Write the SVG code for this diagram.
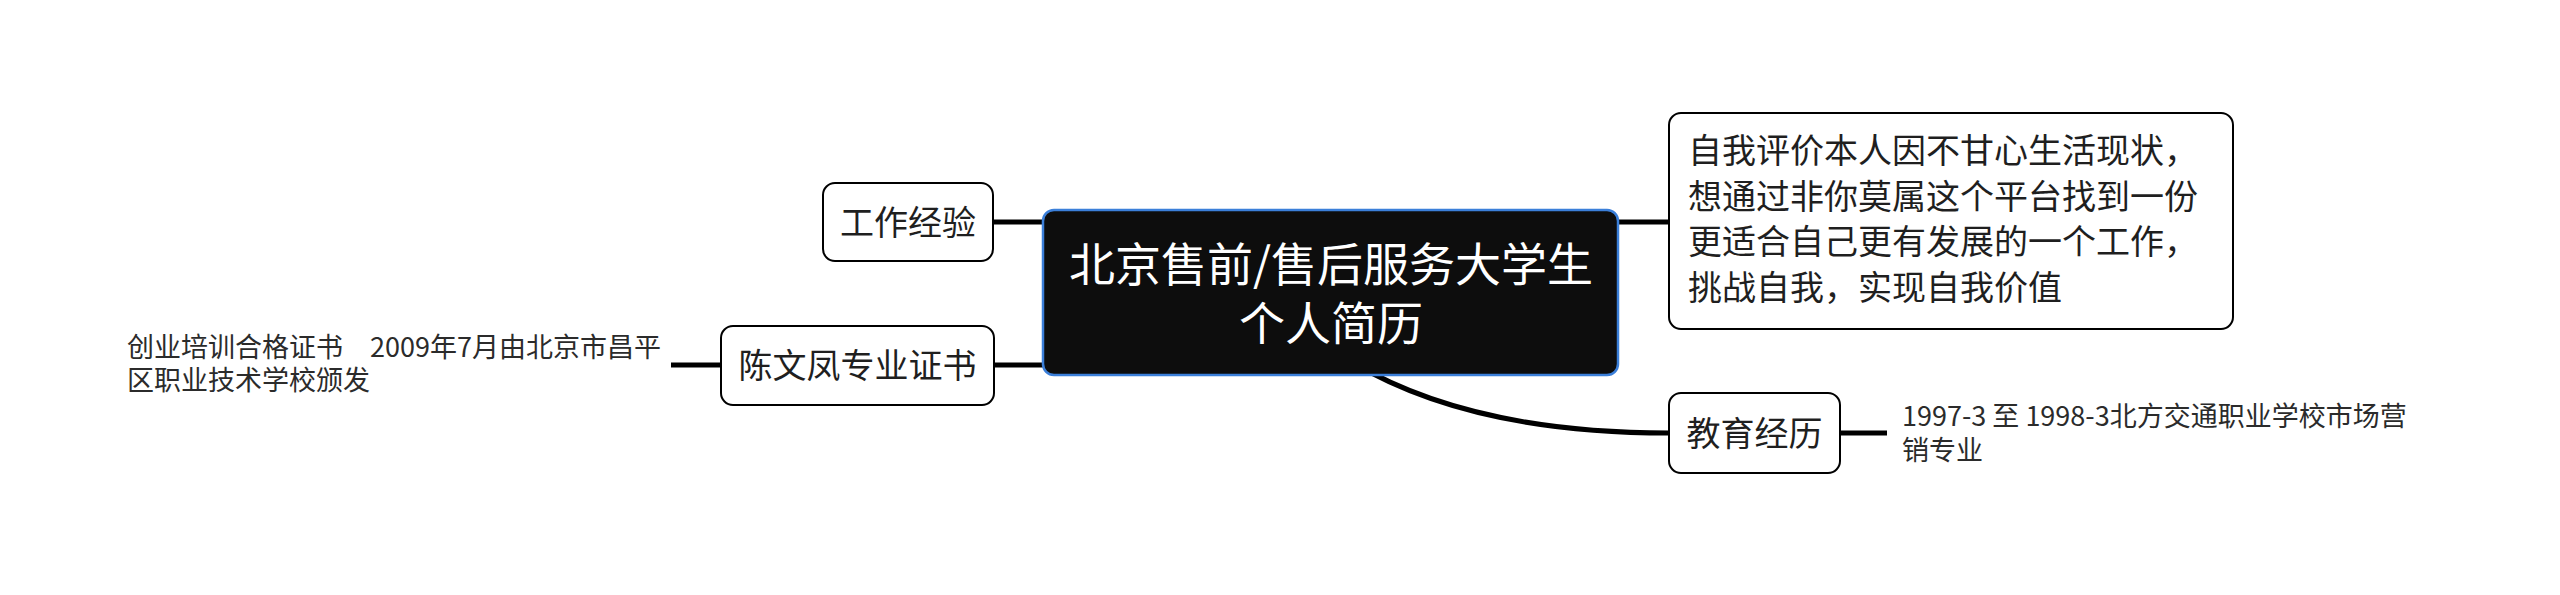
<svg xmlns="http://www.w3.org/2000/svg" width="2560" height="595" viewBox="0 0 2560 595">
<style>
.bg{fill:#ffffff}
.conn{fill:none;stroke:#000000;stroke-width:5;stroke-linecap:butt}
.node{fill:#ffffff;stroke:#000000;stroke-width:2}
.root{fill:#0d0d0d;stroke:#3b7fd9;stroke-width:2.5}
.t{font-family:"Noto Sans CJK SC","Noto Sans",sans-serif;fill:#1f1f1f}
.nt{font-size:34px}
.lt{font-size:27px;fill:#2b2b2b}
.rt{font-family:"Noto Sans CJK SC","Noto Sans",sans-serif;font-size:46px;fill:#ffffff;text-anchor:middle}
</style>
<rect class="bg" x="0" y="0" width="2560" height="595"/>
<g id="connectors">
<line class="conn" x1="993" y1="222" x2="1045" y2="222"/>
<line class="conn" x1="993" y1="365" x2="1045" y2="365"/>
<line class="conn" x1="1616" y1="222" x2="1669" y2="222"/>
<path class="conn" d="M1352,362 Q1470,433 1669,433"/>
<line class="conn" x1="671" y1="365" x2="721" y2="365"/>
<line class="conn" x1="1840" y1="433" x2="1887" y2="433"/>
</g>
<g id="root">
<rect class="root" x="1043" y="210" width="575" height="165" rx="11"/>
<text class="rt" x="1331" y="281">北京售前/售后服务大学生</text>
<text class="rt" x="1331" y="340">个人简历</text>
</g>
<g id="work">
<rect class="node" x="823" y="183" width="170" height="78" rx="12"/>
<text class="t nt" x="908" y="235" text-anchor="middle">工作经验</text>
</g>
<g id="cert">
<rect class="node" x="721" y="326" width="273" height="79" rx="12"/>
<text class="t nt" x="857.5" y="378" text-anchor="middle">陈文凤专业证书</text>
</g>
<g id="cert-detail">
<text class="t lt" x="127" y="357">创业培训合格证书　2009年7月由北京市昌平</text>
<text class="t lt" x="127" y="390">区职业技术学校颁发</text>
</g>
<g id="self-eval">
<rect class="node" x="1669" y="113" width="564" height="216" rx="12"/>
<text class="t nt" x="1688" y="163">自我评价本人因不甘心生活现状，</text>
<text class="t nt" x="1688" y="208.5">想通过非你莫属这个平台找到一份</text>
<text class="t nt" x="1688" y="254">更适合自己更有发展的一个工作，</text>
<text class="t nt" x="1688" y="299.5">挑战自我，实现自我价值</text>
</g>
<g id="edu">
<rect class="node" x="1669" y="393" width="171" height="80" rx="12"/>
<text class="t nt" x="1754.5" y="446" text-anchor="middle">教育经历</text>
</g>
<g id="edu-detail">
<text class="t lt" x="1902" y="426">1997-3 至 1998-3北方交通职业学校市场营</text>
<text class="t lt" x="1902" y="460">销专业</text>
</g>
</svg>
